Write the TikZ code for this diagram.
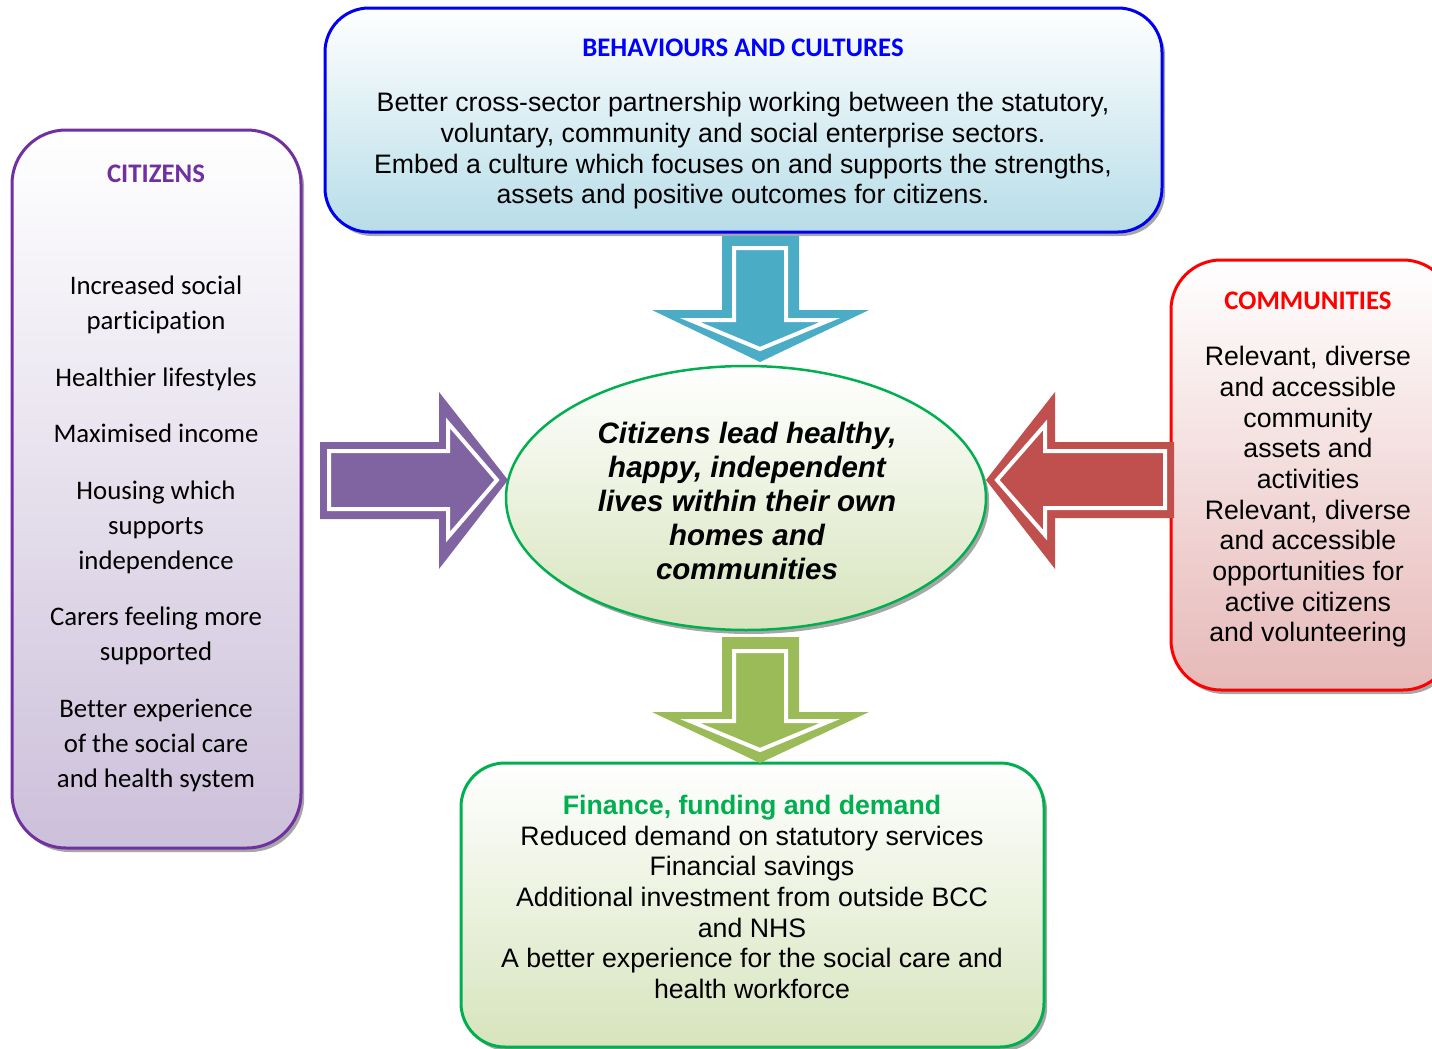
\documentclass[tikz,border=0pt]{standalone}
\usepackage{fontspec}
\setmainfont{Liberation Sans}
\newfontfamily\calibri[Ligatures=NoCommon]{Carlito}
\usetikzlibrary{shadows,shapes.geometric}
\definecolor{bluebd}{RGB}{0,0,240}
\definecolor{bluebot}{RGB}{183,221,232}
\definecolor{bluett}{RGB}{0,0,255}
\definecolor{purplebd}{RGB}{112,48,160}
\definecolor{purplebot}{RGB}{204,192,218}
\definecolor{redbd}{RGB}{255,0,0}
\definecolor{redbot}{RGB}{230,185,184}
\definecolor{greenbd}{RGB}{0,176,80}
\definecolor{greenbot}{RGB}{215,228,189}
\definecolor{arrpurple}{RGB}{128,100,162}
\definecolor{arrred}{RGB}{192,80,77}
\definecolor{arrblue}{RGB}{75,172,198}
\definecolor{arrgreen}{RGB}{155,187,89}
\tikzset{
  panel/.style={line width=1.5pt, inner sep=0pt, top color=white,
    drop shadow={shadow xshift=1.6pt, shadow yshift=-2pt, fill=black!35, opacity=1}},
  innerarrow/.style={draw=white, line width=2pt, line join=miter},
  armfont/.style={font=\fontsize{13.35}{15.33}\selectfont, align=center},
  titlefont/.style={font=\calibri\bfseries\fontsize{13.4}{15}\selectfont},
}
\begin{document}
\begin{tikzpicture}[x=0.5pt,y=-0.5pt]
\useasboundingbox (0,0) rectangle (1432,1049);
\clip (0,0) rectangle (1432,1049);

% panels
\node[panel, draw=bluebd, bottom color=bluebot, rounded corners=22pt,
  minimum width=418.5pt, minimum height=112pt] (beh) at (743.5,120) {};
\node[panel, draw=purplebd, bottom color=purplebot, rounded corners=27pt,
  minimum width=144.5pt, minimum height=359pt] (cit) at (156.5,489) {};
\node[panel, draw=redbd, bottom color=redbot, rounded corners=25pt,
  minimum width=141pt, minimum height=215pt] (com) at (1312,475) {};
\node[panel, draw=greenbd, bottom color=greenbot, rounded corners=22pt,
  minimum width=291.5pt, minimum height=142pt] (fin) at (752.5,905) {};
\node[panel, ellipse, draw=greenbd, line width=1.25pt, bottom color=greenbot,
  minimum width=240pt, minimum height=132pt] (goal) at (746,498) {};

% arrows
\fill[arrblue] (722,236) -- (799,236) -- (799,310) -- (869,310) -- (760,362) -- (652,310) -- (722,310) -- cycle;
\path[innerarrow, fill=arrblue] (734,248) -- (786,248) -- (786,320) -- (830,320) -- (760,349) -- (690,320) -- (734,320) -- cycle;
\fill[arrgreen] (722,637) -- (799,637) -- (799,712) -- (869,712) -- (760,763) -- (652,712) -- (722,712) -- cycle;
\path[innerarrow, fill=arrgreen] (734,651) -- (786,651) -- (786,721) -- (830,721) -- (760,750) -- (690,721) -- (734,721) -- cycle;
\fill[arrpurple] (320,442) -- (439,442) -- (439,392) -- (508,480) -- (439,569) -- (439,519) -- (320,519) -- cycle;
\path[innerarrow, fill=arrpurple] (329,451) -- (448,451) -- (448,423) -- (497,480) -- (448,537) -- (448,509) -- (329,509) -- cycle;
\fill[arrred] (1174,442) -- (1055,442) -- (1055,392) -- (986,480) -- (1055,569) -- (1055,518) -- (1174,518) -- cycle;
\path[innerarrow, fill=arrred] (1165,451) -- (1045,451) -- (1045,425) -- (997,480) -- (1045,535) -- (1045,508) -- (1165,508) -- cycle;

% texts
\node[titlefont, text=bluett] (behT) at (743,48) {BEHAVIOURS AND CULTURES};
\node[armfont] (behB) at (743,151) {Better cross-sector partnership working between the statutory,\\
voluntary, community and social enterprise sectors.\\
Embed a culture which focuses on and supports the strengths,\\
assets and positive outcomes for citizens.};

\node[titlefont, text=purplebd] (citT) at (156,174) {CITIZENS};
\node[font=\calibri\fontsize{13.4}{17.5}\selectfont, align=center] (citB) at (156,534) {Increased social\\ participation\\[10.75pt]
Healthier lifestyles\\[10.75pt]
Maximised income\\[10.75pt]
Housing which\\ supports\\ independence\\[10.75pt]
Carers feeling more\\ supported\\[10.75pt]
Better experience\\ of the social care\\ and health system};

\node[titlefont, text=redbd] (comT) at (1308,301) {COMMUNITIES};
\node[armfont] (comB) at (1308,497) {Relevant, diverse\\ and accessible\\ community\\ assets and\\ activities\\
Relevant, diverse\\ and accessible\\ opportunities for\\ active citizens\\ and volunteering};

\node[font=\bfseries\itshape\fontsize{14.75}{17}\selectfont, align=center] (goalT) at (747,501) {Citizens lead healthy,\\ happy, independent\\ lives within their own\\ homes and\\ communities};

\node[armfont] (finB) at (752,897) {\textcolor{greenbd}{\bfseries Finance, funding and demand}\\
Reduced demand on statutory services\\
Financial savings\\
Additional investment from outside BCC\\
and NHS\\
A better experience for the social care and\\
health workforce};
\end{tikzpicture}
\end{document}
